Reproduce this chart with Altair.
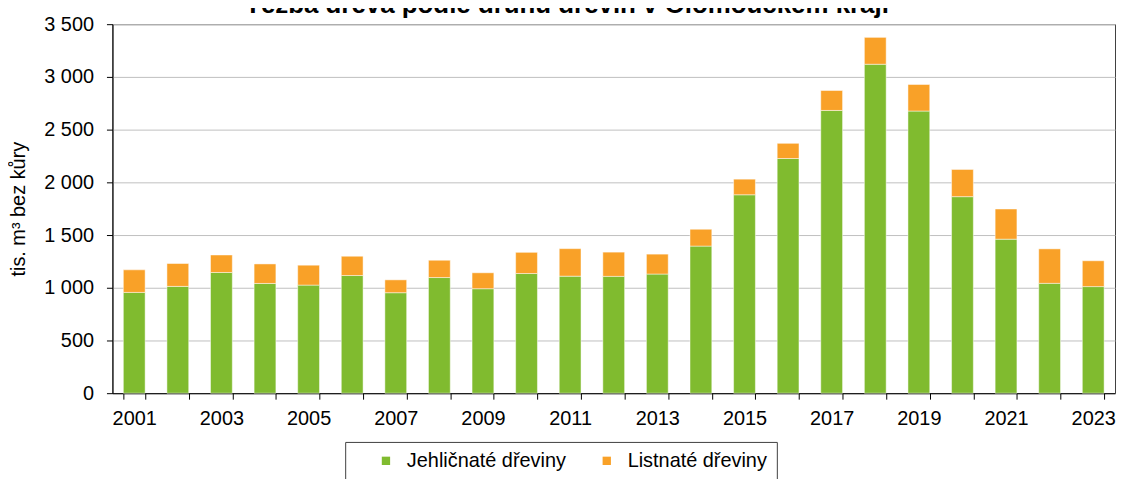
import altair as alt
import pandas as pd

FONT = "Liberation Sans"

title_text = "Těžba dřeva podle druhů dřevin v Olomouckém kraji"
y_title = "tis. m³ bez kůry"

years = ["2001", "2002", "2003", "2004", "2005", "2006", "2007", "2008",
         "2009", "2010", "2011", "2012", "2013", "2014", "2015", "2016",
         "2017", "2018", "2019", "2020", "2021", "2022", "2023"]
jehlicnate = [956, 1013, 1145, 1041, 1025, 1116, 953, 1097, 991, 1135, 1110,
              1108, 1130, 1395, 1882, 2226, 2682, 3120, 2676, 1864, 1461, 1042, 1011]
listnate = [214, 217, 166, 185, 189, 183, 122, 164, 151, 201, 261,
            230, 189, 160, 148, 144, 189, 255, 252, 258, 286, 327, 245]
series = ["Jehličnaté dřeviny", "Listnaté dřeviny"]
colors = ["#80BB2F", "#F9A128"]
y_ticks = [0, 500, 1000, 1500, 2000, 2500, 3000, 3500]

rows = []
for i, y in enumerate(years):
    rows.append({"rok": y, "druh": series[0], "hodnota": jehlicnate[i], "poradi": 0})
    rows.append({"rok": y, "druh": series[1], "hodnota": listnate[i], "poradi": 1})
df = pd.DataFrame(rows)

bars = alt.Chart(df).mark_bar(
    stroke="white", strokeWidth=0.8, strokeOpacity=0.6
).encode(
    x=alt.X(
        "rok:O", sort=years,
        scale=alt.Scale(paddingInner=0.5, paddingOuter=0.25),
        axis=alt.Axis(
            title=None, labelAngle=0, tickBand="extent", grid=False,
            labelExpr="toNumber(datum.value) % 2 == 1 ? datum.label : ''",
            labelOverlap=False, tickSize=6, labelPadding=9,
        ),
    ),
    y=alt.Y(
        "hodnota:Q", stack="zero",
        scale=alt.Scale(domain=[0, 3500], nice=False),
        axis=alt.Axis(
            title=y_title, values=y_ticks, grid=True, tickSize=6, labelPadding=13,
            labelExpr="replace(format(datum.value, ','), ',', ' ')",
            titleX=-94, titleY=185.5, titleBaseline="middle", titleAngle=270,
            titleFontSize=20, titleFontWeight="normal", titleFont=FONT, titleColor="black",
        ),
    ),
    color=alt.Color(
        "druh:N",
        scale=alt.Scale(domain=series, range=colors),
        legend=alt.Legend(
            title=" ", titleOrient="left", titlePadding=22, titleFontSize=20,
            orient="none", legendX=234, legendY=420,
            direction="horizontal", symbolType="square", symbolSize=70,
            symbolStrokeWidth=0, labelFontSize=20, labelFont=FONT, labelColor="black",
            labelOffset=11, columnPadding=30, padding=9, labelLimit=400,
            labelExpr="datum.label == 'Listnaté dřeviny' ? datum.label + '    ' : datum.label",
            strokeColor="#404040", fillColor="white",
        ),
    ),
    order=alt.Order("poradi:Q", sort="ascending"),
)

title_layer = alt.Chart(alt.Data(values=[{"t": title_text}])).mark_text(
    font=FONT, fontSize=26, fontWeight="bold", color="black",
    align="center", baseline="alphabetic",
).encode(
    text="t:N", x=alt.value(457), y=alt.value(-11),
)

chart = alt.layer(bars, title_layer).properties(
    width=1008, height=371,
    autosize=alt.AutoSizeParams(type="none"),
    padding={"left": 105, "top": 15, "right": 2, "bottom": 85},
).configure_view(
    stroke="#404040", strokeWidth=1
).configure_axis(
    domainColor="black", tickColor="black", labelColor="black",
    labelFont=FONT, labelFontSize=20, gridColor="#c0c0c0", gridWidth=1,
    domainWidth=1, tickWidth=1,
)

chart.save("out.html", embed_options={"renderer": "svg", "actions": False})
